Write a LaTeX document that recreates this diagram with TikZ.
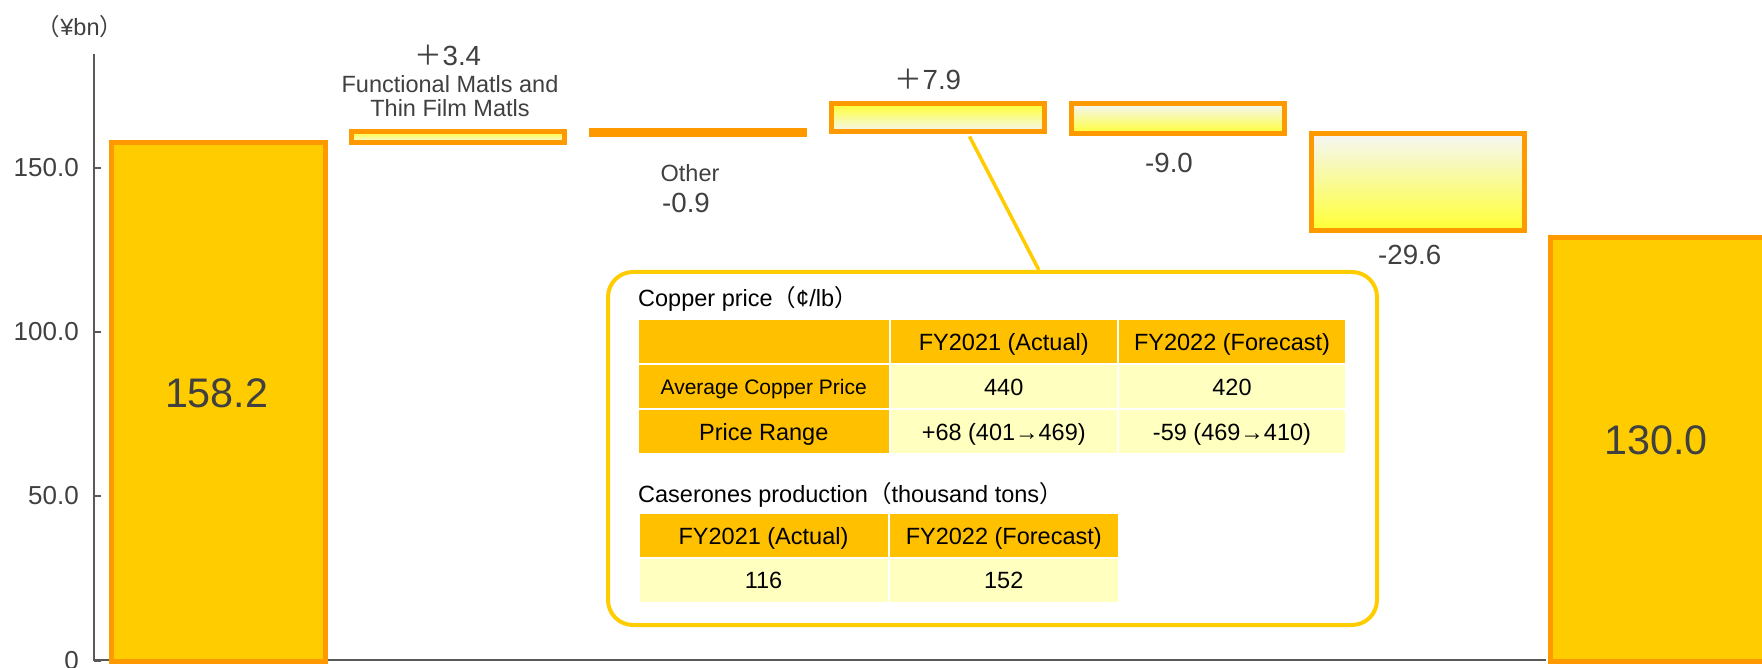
\documentclass[tikz,border=0pt]{standalone}
\usepackage{fontspec}
\setmainfont{Liberation Sans}
\newfontfamily\cjk{Noto Sans CJK JP}
\usepackage{tikz}
\usetikzlibrary{calc, positioning}
\usepackage{xcolor}
\definecolor{barGold}{RGB}{255, 204, 0}
\definecolor{barEdge}{RGB}{255, 153, 0}
\definecolor{hiYellow}{RGB}{255, 255, 51}
\definecolor{loGrey}{RGB}{244, 246, 246}
\definecolor{hdrGold}{RGB}{255, 192, 0}
\definecolor{cellCream}{RGB}{255, 255, 192}
\definecolor{axisGrey}{RGB}{89, 89, 89}
\definecolor{txtGrey}{RGB}{64, 64, 64}
\newcommand{\fsz}[1]{\fontsize{#1}{#1}\selectfont}

\begin{document}
\begin{tikzpicture}[x=1pt, y=-1pt,
  total/.style={draw=barEdge, line width=5pt, fill=barGold},
  upbar/.style={draw=barEdge, line width=5pt, top color=hiYellow, bottom color=loGrey},
  downbar/.style={draw=barEdge, line width=5pt, top color=loGrey, bottom color=hiYellow},
  flatbar/.style={draw=barEdge, line width=5pt, fill=barEdge},
  lbl/.style={text=txtGrey, inner sep=0pt, font=\fontsize{23.5}{24}\selectfont},
  val/.style={text=txtGrey, inner sep=0pt, font=\fsz{27.7}},
  tick/.style={text=txtGrey, inner sep=0pt, anchor=east, font=\fsz{26}},
  cell/.style={draw=white, line width=2pt, inner sep=0pt, anchor=north west,
    minimum height=45pt, text height=16.8pt, text depth=0pt, font=\fsz{23.5}},
  hdr/.style={cell, fill=hdrGold},
  dat/.style={cell, fill=cellCream}]
  \useasboundingbox (0,0) rectangle (1762,668);

  % axis and ticks
  \draw[axisGrey, line width=2pt] (93.5,54) -- (93.5,659.5) -- (1546,659.5);
  \foreach \v/\y [count=\k] in {150.0/168, 100.0/332, 50.0/496, 0/661} {
    \draw[axisGrey, line width=2pt] (93.5,\y) -- (101,\y);
    \node[tick] (tick\k) at (79,\y) {\v};
  }
  \node[lbl] (unit) at (80,27) {{\cjk （}¥bn{\cjk ）}};

  % waterfall bars
  \foreach \i/\x/\t/\b/\sty in {1/109.2/139.8/659.2/total, 2/348.5/129.2/140.2/upbar,
      3/588.5/128.5/131.8/flatbar, 4/828.5/101.5/129.2/upbar, 5/1068.5/101.5/131.2/downbar,
      6/1308.5/131.2/228.2/downbar, 7/1548.2/234.8/659.2/total} {
    \pgfmathsetmacro\h{\b-\t}
    \node[\sty, minimum width=213.5pt, minimum height=\h pt, inner sep=0pt,
      anchor=north west] (bar\i) at (\x,\t) {};
  }

  % bar labels
  \node[font=\fsz{41.3}, text=txtGrey, inner sep=0pt] (valStart) at (216.7,393) {158.2};
  \node[font=\fsz{41.3}, text=txtGrey, inner sep=0pt] (valEnd) at (1656,440) {130.0};
  \node[val] (valFunc) at (448,55) {{\cjk ＋}3.4};
  \node[lbl, align=center] (lblFunc) at (450,96) {Functional Matls and\\Thin Film Matls};
  \node[lbl] (lblOther) at (690,172.7) {Other};
  \node[val] (valOther) at (686,203) {-0.9};
  \node[val] (valCu) at (928,79) {{\cjk ＋}7.9};
  \node[val] (valFx) at (1169,162.7) {-9.0};
  \node[val] (valLast) at (1409.7,255) {-29.6};

  % callout box
  \node[draw=barGold, line width=4pt, rounded corners=25pt, minimum width=769pt,
    minimum height=353pt, inner sep=0pt, anchor=north west] (infobox) at (606,270) {};
  \draw[barGold, line width=3.5pt, shorten <=2.5pt]
    ($(bar4.south west)!0.64!(bar4.south east)$) -- ($(infobox.north west)!0.56!(infobox.north east)$);

  % copper price table
  \node[lbl, text=black, anchor=base west] (cuTitle) at (638,306.5) {Copper price{\cjk （}¢/lb{\cjk ）}};
  \node[hdr, minimum width=251.5pt] (cu11) at (637,318.3) {};
  \node[hdr, minimum width=228.5pt] (cu12) at (888.5,318.3) {FY2021 (Actual)};
  \node[hdr, minimum width=228pt] (cu13) at (1117,318.3) {FY2022 (Forecast)};
  \node[hdr, minimum width=251.5pt, font=\fsz{21}, text height=15pt] (cu21) at (637,363.3) {Average Copper Price};
  \node[dat, minimum width=228.5pt] (cu22) at (888.5,363.3) {440};
  \node[dat, minimum width=228pt] (cu23) at (1117,363.3) {420};
  \node[hdr, minimum width=251.5pt] (cu31) at (637,408.3) {Price Range};
  \node[dat, minimum width=228.5pt] (cu32) at (888.5,408.3) {+68 (401→469)};
  \node[dat, minimum width=228pt] (cu33) at (1117,408.3) {-59 (469→410)};

  % production table
  \node[lbl, text=black, anchor=base west] (prTitle) at (638,502.3) {Caserones production{\cjk （}thousand tons{\cjk ）}};
  \node[hdr, minimum width=250pt] (pr11) at (637.5,512.3) {FY2021 (Actual)};
  \node[hdr, minimum width=230.5pt] (pr12) at (887.5,512.3) {FY2022 (Forecast)};
  \node[dat, minimum width=250pt] (pr21) at (637.5,556.7) {116};
  \node[dat, minimum width=230.5pt] (pr22) at (887.5,556.7) {152};
\end{tikzpicture}
\end{document}
